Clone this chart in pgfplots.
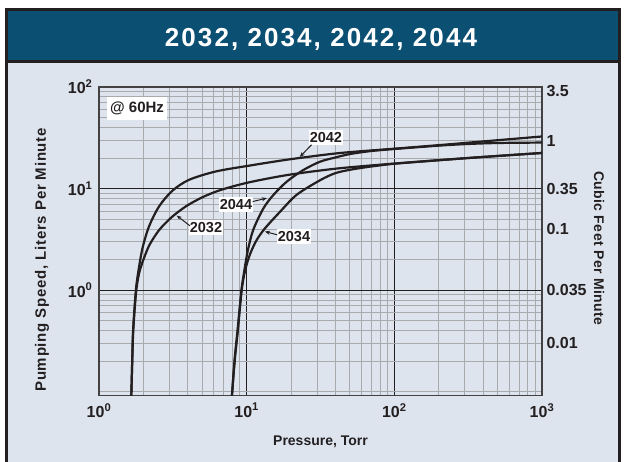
\documentclass[border=0pt]{standalone}
\usepackage{pgfplots}
\pgfplotsset{compat=1.18}
\usepackage{fontspec}
\setmainfont{Liberation Sans}
\usetikzlibrary{arrows.meta}
\definecolor{bgc}{RGB}{221,228,238}
\definecolor{titlec}{RGB}{11,79,114}
\definecolor{ink}{RGB}{35,31,32}
\definecolor{gridc}{RGB}{168,170,174}
\newcommand{\tp}[1]{10\textsuperscript{#1}}

\pgfplotstableread{
x y
1.655 0.0916
1.679 0.206
1.702 0.406
1.777 1
1.854 1.585
1.973 2.61
2.18 4.23
2.548 6.66
3.135 9.51
4.07 12.2
6.17 14.74
10.25 16.77
19.64 19.44
42.8 22.4
100 24.7
214 27.0
500 29.95
1000 32.6
}\dataA % 2042

\pgfplotstableread{
x y
1.655 0.0916
1.681 0.206
1.707 0.406
1.789 1
1.895 1.585
2.12 2.495
2.30 3.13
2.600 4.036
3.135 5.30
3.90 6.725
5.005 8.21
6.625 9.666
10.25 11.48
19.13 13.65
41.7 15.81
106.3 17.76
326.5 20.07
1000 22.43
}\dataB % 2032

\pgfplotstableread{
x y
7.95 0.0916
8.31 0.206
8.72 0.406
9.25 1
9.78 1.581
10.53 2.253
11.65 3.095
13.3 4.063
16.81 5.907
21.8 8.69
31.35 12.07
39.6 14.15
50.0 15.32
63.2 16.18
79.9 16.93
106.3 17.72
326.5 20.07
1000 22.43
}\dataC % 2034

\pgfplotstableread{
x y
7.95 0.0916
8.28 0.206
8.68 0.406
9.22 1
9.66 1.585
10.2 2.495
11.08 3.93
12.95 6.35
15.14 8.63
18.66 11.69
24.16 15.22
31.35 18.39
39.6 20.2
50.0 21.88
68.4 23.36
100 24.55
214 26.65
342 27.63
519 28.14
1000 28.4
}\dataD % 2044

\begin{document}
\begin{tikzpicture}[
  lbl/.style={fill=white, inner xsep=1pt, inner ysep=2.5pt, font=\fontsize{14.5}{14.5}\selectfont\bfseries, text=ink},
  arr/.style={-{Stealth[length=5pt,width=4pt]}, line width=1pt, ink}]
\useasboundingbox (0pt,0pt) rectangle (626pt,461pt);
\fill[bgc] (5pt,-10pt) rectangle (621pt,453pt);
\fill[titlec] (5pt,453pt) rectangle (621pt,400pt);
\draw[ink, line width=3pt] (6.5pt,-10pt) -- (6.5pt,451.5pt) -- (619.5pt,451.5pt) -- (619.5pt,-10pt);
\draw[ink, line width=3pt] (5pt,399pt) -- (621pt,399pt);
\node[white, font=\fontsize{26}{26}\selectfont\bfseries\addfontfeature{LetterSpace=8}] at (321pt,422pt) {2032, 2034, 2042, 2044};

\begin{axis}[
  at={(99pt,65.3pt)}, anchor=south west, scale only axis,
  width=443pt, height=308.7pt,
  xmode=log, ymode=log,
  xmin=1, xmax=1000, ymin=0.0916, ymax=100,
  xtick={1,10,100,1000},
  xticklabels={\tp{0},\tp{1},\tp{2},\tp{3}},
  ytick={1,10,100},
  yticklabels={\tp{0},\tp{1},\tp{2}},
  minor ytick={0.1,0.2,0.3,0.4,0.5,0.6,0.7,0.8,0.9,2,3,4,5,6,7,8,9,20,30,40,50,60,70,80,90},
  grid=both,
  major grid style={ink, line width=1pt},
  minor grid style={gridc, line width=1pt},
  axis line style={ink!85, line width=1.3pt},
  tick style={draw=none},
  ticklabel style={font=\fontsize{16}{16}\selectfont\bfseries, text=ink},
  xticklabel style={yshift=-4pt},
  yticklabel style={xshift=-3pt},
  xlabel={Pressure, Torr},
  ylabel={Pumping Speed, Liters Per Minute},
  xlabel style={font=\fontsize{14}{14}\selectfont\bfseries, text=ink, at={(axis description cs:0.5,-0.149)}, anchor=center},
  ylabel style={font=\fontsize{15}{15}\selectfont\bfseries\addfontfeature{LetterSpace=5}, text=ink, at={(axis description cs:-0.1287,0.44)}, anchor=center, rotate=0},
]
\addplot[ink, line width=2.2pt, smooth] table[x=x,y=y] {\dataA};
\addplot[ink, line width=2.2pt, smooth] table[x=x,y=y] {\dataB};
\addplot[ink, line width=2.2pt, smooth] table[x=x,y=y] {\dataC};
\addplot[ink, line width=2.2pt, smooth] table[x=x,y=y] {\dataD};
\node[lbl] at (axis cs:34.4,31.7) {2042};
\draw[arr] (axis cs:27.5,27.0) -- (axis cs:22.9,20.5);
\node[lbl] at (axis cs:8.46,6.92) {2044};
\draw[arr] (axis cs:10.98,7.46) -- (axis cs:13.7,8.06);
\node[lbl] at (axis cs:5.30,4.11) {2032};
\draw[arr] (axis cs:4.13,4.30) -- (axis cs:3.36,5.43);
\node[lbl] at (axis cs:20.9,3.37) {2034};
\draw[arr] (axis cs:16.1,3.51) -- (axis cs:13.3,3.78);
\node[fill=white, inner xsep=3pt, inner ysep=5pt, font=\fontsize{15}{15}\selectfont\bfseries, text=ink] at (axis cs:1.81,61.1) {@ 60Hz};
\end{axis}

\begin{axis}[
  at={(99pt,65.3pt)}, anchor=south west, scale only axis,
  width=443pt, height=308.7pt,
  xmode=log, ymode=log,
  xmin=1, xmax=1000, ymin=0.0916, ymax=100,
  axis x line=none,
  axis y line*=right,
  axis line style={draw=none},
  ytick={92,29.1,10,3.98,1,0.30},
  yticklabels={3.5,1,0.35,0.1,0.035,0.01},
  minor ytick={},
  tick style={draw=none},
  yticklabel style={font=\fontsize{16}{16}\selectfont\bfseries, text=ink, anchor=west, xshift=1pt},
  ylabel={Cubic Feet Per Minute},
  ylabel style={font=\fontsize{14}{14}\selectfont\bfseries\addfontfeature{LetterSpace=3}, text=ink, at={(axis description cs:1.1287,0.478)}, anchor=center, rotate=180},
]
\end{axis}
\end{tikzpicture}
\end{document}
